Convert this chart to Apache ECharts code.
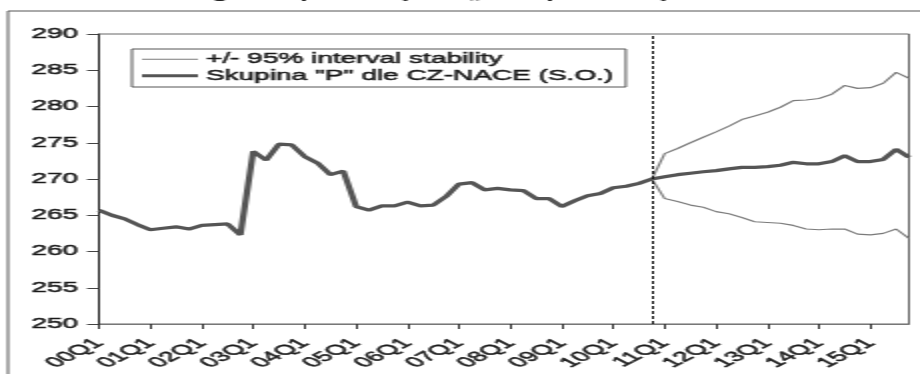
<!DOCTYPE html>
<html>
<head>
<meta charset="utf-8">
<script src="https://cdn.jsdelivr.net/npm/echarts@6/dist/echarts.min.js"></script>
<style>
  html, body { margin: 0; padding: 0; background: #fff; overflow: hidden; }
  /* the source picture is stretched 2x horizontally, so draw at half width and stretch */
  #main { width: 460px; height: 374px; transform: scaleX(2); transform-origin: 0 0; }
</style>
</head>
<body>
<div id="main"></div>
<script>
// quarters 00Q1 .. 15Q4
const quarters = [];
for (let y = 0; y <= 15; y++) {
  for (let q = 1; q <= 4; q++) {
    quarters.push((y < 10 ? '0' + y : '' + y) + 'Q' + q);
  }
}

// observed values 00Q1 .. 10Q4
const history = [265.7, 265.0, 264.5, 263.7, 263.0, 263.2, 263.4, 263.1, 263.6, 263.7, 263.8, 262.3,
  273.8, 272.6, 274.8, 274.7, 273.1, 272.2, 270.6, 271.1, 266.2, 265.7, 266.3, 266.3,
  266.8, 266.3, 266.4, 267.6, 269.3, 269.5, 268.5, 268.7, 268.5, 268.4, 267.3, 267.3,
  266.2, 267.0, 267.7, 268.0, 268.8, 269.0, 269.4, 270.0];

// forecast 11Q1 .. 15Q4
const forecast = [270.3, 270.6, 270.8, 271.0, 271.15, 271.4, 271.6, 271.6, 271.7, 271.9,
  272.3, 272.1, 272.1, 272.4, 273.2, 272.4, 272.4, 272.7, 274.1, 273.0];
const upper = [273.5, 274.2, 275.0, 275.75, 276.5, 277.3, 278.2, 278.7, 279.2, 279.9,
  280.8, 280.9, 281.1, 281.7, 282.9, 282.5, 282.6, 283.2, 284.7, 283.9];
const lower = [267.3, 266.9, 266.4, 266.1, 265.5, 265.2, 264.7, 264.1, 264.0, 263.9,
  263.6, 263.1, 263.0, 263.1, 263.1, 262.4, 262.3, 262.5, 263.1, 261.8];

const bandName = '+/- 95% interval stability';
const mainName = 'Skupina "P" dle CZ-NACE (S.O.)';
const splitQuarter = '10Q4';

const lastOnly = history.map((v, i) => i === history.length - 1 ? v : null);
const font = 'Liberation Sans';
// a little outline makes the glyphs as heavy as in the scanned original
const heavy = { textBorderColor: '#1a1a1a', textBorderWidth: 0.5 };

const chart = echarts.init(document.getElementById('main'));
chart.setOption({
  animation: false,
  graphic: [
    {
      type: 'rect',
      shape: { x: 4, y: 11, width: 600, height: 500 },
      style: { fill: 'none', stroke: '#555', lineWidth: 1 },
      silent: true
    },
    {
      type: 'text',
      x: 245,
      y: -13,
      style: {
        text: 'Prognóza pro skupinu „P“ – pásmo spolehlivosti',
        font: 'bold 14px ' + font,
        fill: '#222',
        textAlign: 'center',
        textVerticalAlign: 'top'
      },
      silent: true
    }
  ],
  legend: {
    data: [
      { name: bandName, icon: 'path://M0,0h28v1h-28z' },
      { name: mainName, icon: 'path://M0,0h28v3h-28z' }
    ],
    orient: 'vertical',
    left: 66,
    top: 49,
    padding: [3, 6, 4, 5],
    itemWidth: 28,
    itemHeight: 14,
    itemGap: 2,
    borderColor: '#555',
    borderWidth: 1,
    textStyle: Object.assign({ fontFamily: font, fontSize: 14, color: '#1a1a1a', padding: [0, 0, 0, -1] }, heavy)
  },
  grid: {
    left: 49.5,
    right: 5.5,
    top: 34,
    bottom: 50,
    show: true,
    borderColor: '#666',
    borderWidth: 1
  },
  xAxis: {
    type: 'category',
    data: quarters,
    boundaryGap: false,
    axisLine: { lineStyle: { color: '#777', width: 1 } },
    axisTick: { interval: 3, length: 5, lineStyle: { color: '#333' } },
    axisLabel: Object.assign({
      interval: 3,
      rotate: 45,
      margin: 17,
      fontFamily: font,
      fontSize: 14,
      color: '#1a1a1a'
    }, heavy),
    splitLine: { show: false }
  },
  yAxis: {
    type: 'value',
    min: 250,
    max: 290,
    interval: 5,
    axisLine: { show: true, lineStyle: { color: '#222', width: 1 } },
    axisTick: { show: true, length: 6, lineStyle: { color: '#444' } },
    axisLabel: Object.assign({ margin: 10.5, fontFamily: font, fontSize: 14, color: '#1a1a1a' }, heavy),
    splitLine: { show: false }
  },
  series: [
    {
      name: bandName,
      type: 'line',
      data: lastOnly.concat(upper),
      symbol: 'none',
      lineStyle: { color: '#7a7a7a', width: 1.2 },
      itemStyle: { color: '#7a7a7a' }
    },
    {
      name: bandName,
      type: 'line',
      data: lastOnly.concat(lower),
      symbol: 'none',
      lineStyle: { color: '#7a7a7a', width: 1.2 },
      itemStyle: { color: '#7a7a7a' }
    },
    {
      name: mainName,
      type: 'line',
      data: history.concat(forecast),
      symbol: 'none',
      lineStyle: { color: '#555', width: 3.2 },
      itemStyle: { color: '#555' },
      z: 3,
      markLine: {
        silent: true,
        symbol: 'none',
        label: { show: false },
        lineStyle: { color: '#111', type: [3, 2], width: 1 },
        data: [{ xAxis: splitQuarter }]
      }
    }
  ]
});
</script>
</body>
</html>
